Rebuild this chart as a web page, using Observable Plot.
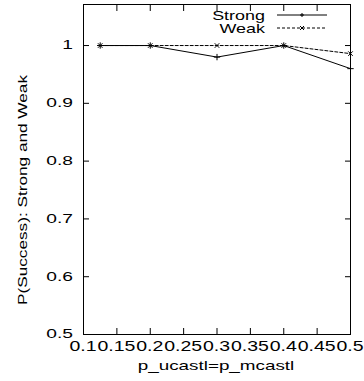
<!DOCTYPE html>
<html><head><meta charset="utf-8">
<script src="https://cdn.jsdelivr.net/npm/d3@7"></script>
<script src="https://cdn.jsdelivr.net/npm/@observablehq/plot@0.6"></script>
<style>body{margin:0;background:#fff}svg{display:block}</style>
</head><body><div id="chart"></div>
<script>
const xValues = [0.125, 0.2, 0.3, 0.4, 0.5];
const strong = [1.0, 1.0, 0.98, 1.0, 0.96];
const weak = [1.0, 1.0, 1.0, 1.0, 0.986];
const xTicks = [0.1, 0.15, 0.2, 0.25, 0.3, 0.35, 0.4, 0.45, 0.5];
const yTicks = [0.5, 0.6, 0.7, 0.8, 0.9, 1];
const seriesNames = ["Strong", "Weak"];

const sData = xValues.map((x, i) => ({x, y: strong[i]}));
const wData = xValues.map((x, i) => ({x, y: weak[i]}));
const font = "'Liberation Sans', Arial, sans-serif";

const plot = Plot.plot({
  width: 364, height: 381,
  marginLeft: 83, marginRight: 14, marginTop: 4, marginBottom: 47,
  style: {fontFamily: font, fontSize: "12px", color: "#000", background: "#fff"},
  x: {domain: [0.1, 0.5], label: null},
  y: {domain: [0.5, 1.071], label: null},
  marks: [
    Plot.frame({stroke: "#000", strokeWidth: 1}),
    Plot.axisX({ticks: xTicks, tickSize: -6, text: null, anchor: "bottom", label: null}),
    Plot.axisX({ticks: xTicks, tickSize: -6, text: null, anchor: "top", label: null}),
    Plot.axisY({ticks: yTicks, tickSize: -6, text: null, anchor: "left", label: null}),
    Plot.axisY({ticks: yTicks, tickSize: -6, text: null, anchor: "right", label: null}),
    Plot.line(wData, {x: "x", y: "y", stroke: "#000", strokeWidth: 1, strokeDasharray: "3,2"}),
    Plot.dot(wData, {x: "x", y: "y", symbol: "times", r: 2.2, stroke: "#000", strokeWidth: 1}),
    Plot.line(sData, {x: "x", y: "y", stroke: "#000", strokeWidth: 1}),
    Plot.dot(sData, {x: "x", y: "y", symbol: "plus", r: 2.2, stroke: "#000", strokeWidth: 1})
  ]
});

const svg = d3.select(plot);
const xs = plot.scale("x"), ys = plot.scale("y");
// tick labels, horizontally stretched like the reference, placed with Plot's scales
const tl = svg.append("g").attr("font-family", font).attr("fill", "#000");
xTicks.forEach(v => {
  tl.append("text").attr("font-size", 15)
    .attr("transform", `translate(${xs.apply(v)},351) scale(1.3,1)`)
    .attr("text-anchor", "middle").text(String(v));
});
yTicks.forEach(v => {
  tl.append("text").attr("font-size", 12)
    .attr("transform", `translate(73,${ys.apply(v) + 4.3}) scale(1.6,1)`)
    .attr("text-anchor", "end").text(String(v));
});
// axis labels
svg.append("text").attr("transform", "translate(216,370) scale(1.45,1)").attr("text-anchor", "middle")
  .attr("font-family", font).attr("font-size", 13).text("p_ucastl=p_mcastl");
svg.append("text").attr("transform", "translate(27,190) rotate(-90)").attr("text-anchor", "middle")
  .attr("font-family", font).attr("font-size", 12)
  .attr("textLength", 230).attr("lengthAdjust", "spacingAndGlyphs")
  .text("P(Success): Strong and Weak");
// legend
const leg = svg.append("g");
seriesNames.forEach((name, i) => {
  const y = 15 + i * 13;
  leg.append("text").attr("transform", `translate(265,${y + 4.5}) scale(1.38,1)`).attr("text-anchor", "end")
    .attr("font-family", font).attr("font-size", 13).text(name);
  leg.append("line").attr("x1", 277).attr("x2", 327).attr("y1", y).attr("y2", y)
    .attr("stroke", "#000").attr("stroke-width", 1).attr("stroke-dasharray", i ? "3,2" : null);
  const cx = 302;
  if (i === 0) {
    leg.append("path").attr("d", `M${cx-2},${y}h4M${cx},${y-2}v4`).attr("stroke", "#000");
  } else {
    leg.append("path").attr("d", `M${cx-2},${y-2}l4,4M${cx-2},${y+2}l4,-4`).attr("stroke", "#000");
  }
});
document.getElementById("chart").appendChild(plot);
</script></body></html>
